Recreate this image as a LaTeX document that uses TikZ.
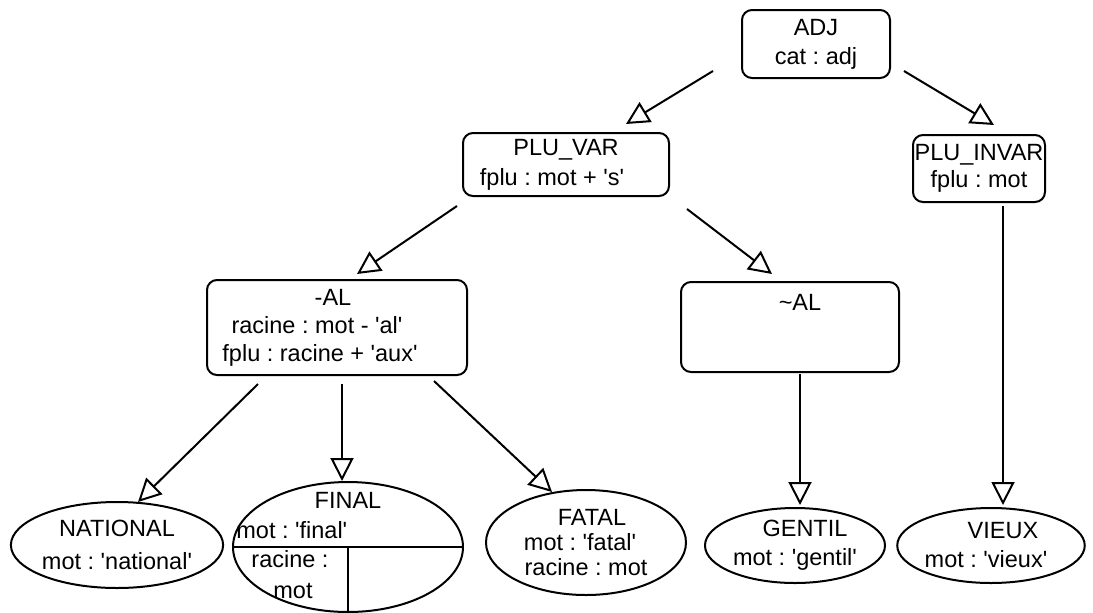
\documentclass[tikz,border=0pt]{standalone}
\usepackage{fontspec}
\setmainfont{Liberation Sans}[Ligatures=TeXOff]
\usetikzlibrary{shapes.geometric, arrows.meta, positioning, calc}
\newcommand{\diafont}{\fontsize{11.75}{14}\selectfont\frenchspacing}
% shift a line of centred text: pad it on the right or on the left
\newcommand{\padr}[2]{\mbox{#1\hspace{#2}}}
\newcommand{\padl}[2]{\mbox{\hspace{#2}#1}}

\begin{document}
\begin{tikzpicture}[
    x=0.5pt, y=-0.5pt,
    cls/.style={draw, rounded corners=5pt, line width=1pt, align=center, inner sep=2pt, font=\diafont},
    inst/.style={draw, ellipse, line width=1pt, align=center, inner sep=0pt, font=\diafont},
    txt/.style={inner sep=0pt, font=\diafont},
    arrow/.style={-{Triangle[open, length=11.5pt, width=11.5pt]}, line width=1pt}
]
    \useasboundingbox (0,0) rectangle (1093,612);

    % classes
    \node[cls, minimum width=74pt, minimum height=34pt, font={\fontsize{11.75}{14.5}\selectfont\frenchspacing}] (adj) at (816,44) {ADJ\\cat : adj};
    \node[cls, minimum width=103pt, minimum height=31.5pt, font={\fontsize{11.75}{15}\selectfont\frenchspacing}] (pluvar) at (566,164.5) {PLU\_VAR\\\padr{fplu : mot + 's'}{14pt}};
    \node[cls, minimum width=66pt, minimum height=33.5pt, inner xsep=0pt, font={\fontsize{11.75}{13.5}\selectfont\frenchspacing}] (pluinvar) at (979,168.5) {PLU\_INVAR\\fplu : mot};
    \node[cls, minimum width=130pt, minimum height=47.5pt] (al) at (337,327.5) {\padr{-AL}{4pt}\\\padr{racine : mot - 'al'}{20pt}\\\padr{fplu : racine + 'aux'}{17pt}};
    \node[cls, minimum width=109pt, inner sep=0pt, text height=14pt, text depth=31pt] (tildeal) at (790,327) {\padl{\textasciitilde AL}{10pt}};

    % instances
    \node[inst, minimum width=105pt, minimum height=43pt, font={\fontsize{11.75}{16.5}\selectfont\frenchspacing}] (national) at (117,545) {NATIONAL\\mot : 'national'};
    \node[inst, minimum width=115pt, minimum height=65pt] (final) at (348,547) {};
    \node[inst, minimum width=100pt, minimum height=52.5pt, font={\fontsize{11.75}{12.5}\selectfont\frenchspacing}] (fatal) at (586,542.5) {\padl{FATAL}{6pt}\\\padr{mot : 'fatal'}{6pt}\\racine : mot};
    \node[inst, minimum width=90pt, minimum height=37.5pt, font={\fontsize{11.75}{14.5}\selectfont\frenchspacing}] (gentil) at (795,545.5) {\padl{GENTIL}{10pt}\\mot : 'gentil'};
    \node[inst, minimum width=87pt, minimum height=37.5pt, font={\fontsize{11.75}{14.5}\selectfont\frenchspacing}] (vieux) at (991,545.5) {\padl{VIEUX}{12pt}\\\padr{mot : 'vieux'}{5pt}};

    % FINAL split in parts
    \draw[line width=1pt] (final.west) -- (final.east);
    \draw[line width=1pt] (final.center) -- (final.south);
    \node[txt, anchor=base] (finalname) at (348,508) {FINAL};
    \node[txt, anchor=base west] (finalmot) at (236,538) {mot : 'final'};
    \node[txt, anchor=base] (finalrac) at (290,567) {racine :};
    \node[txt, anchor=base] (finalval) at (293,598) {mot};

    % inheritance
    \draw[arrow] ($(adj.south west)+(-28,-8)$) -- ($(pluvar.north)+(60,-8)$);
    \draw[arrow] ($(adj.south east)+(13,-8)$) -- ($(pluinvar.north)+(15,-9)$);
    \draw[arrow] ($(pluvar.south west)+(-5,9)$) -- ($(al.north)+(20,-5)$);
    \draw[arrow] ($(pluvar.south east)+(17,12)$) -- ($(tildeal.north)+(-18,-7)$);
    \draw[arrow] ($(pluinvar.south)+(24,3)$) -- ($(vieux.north)+(12,-2)$);
    \draw[arrow] ($(al.south west)+(52,8)$) -- ($(national.north)+(21,1)$);
    \draw[arrow] ($(al.south)+(5,8)$) -- ($(final.north)+(-6,0)$);
    \draw[arrow] ($(al.south east)+(-34,5)$) -- ($(fatal.north)+(-34,3)$);
    \draw[arrow] ($(tildeal.south)+(10,1)$) -- ($(gentil.north)+(5,-2)$);
\end{tikzpicture}
\end{document}
